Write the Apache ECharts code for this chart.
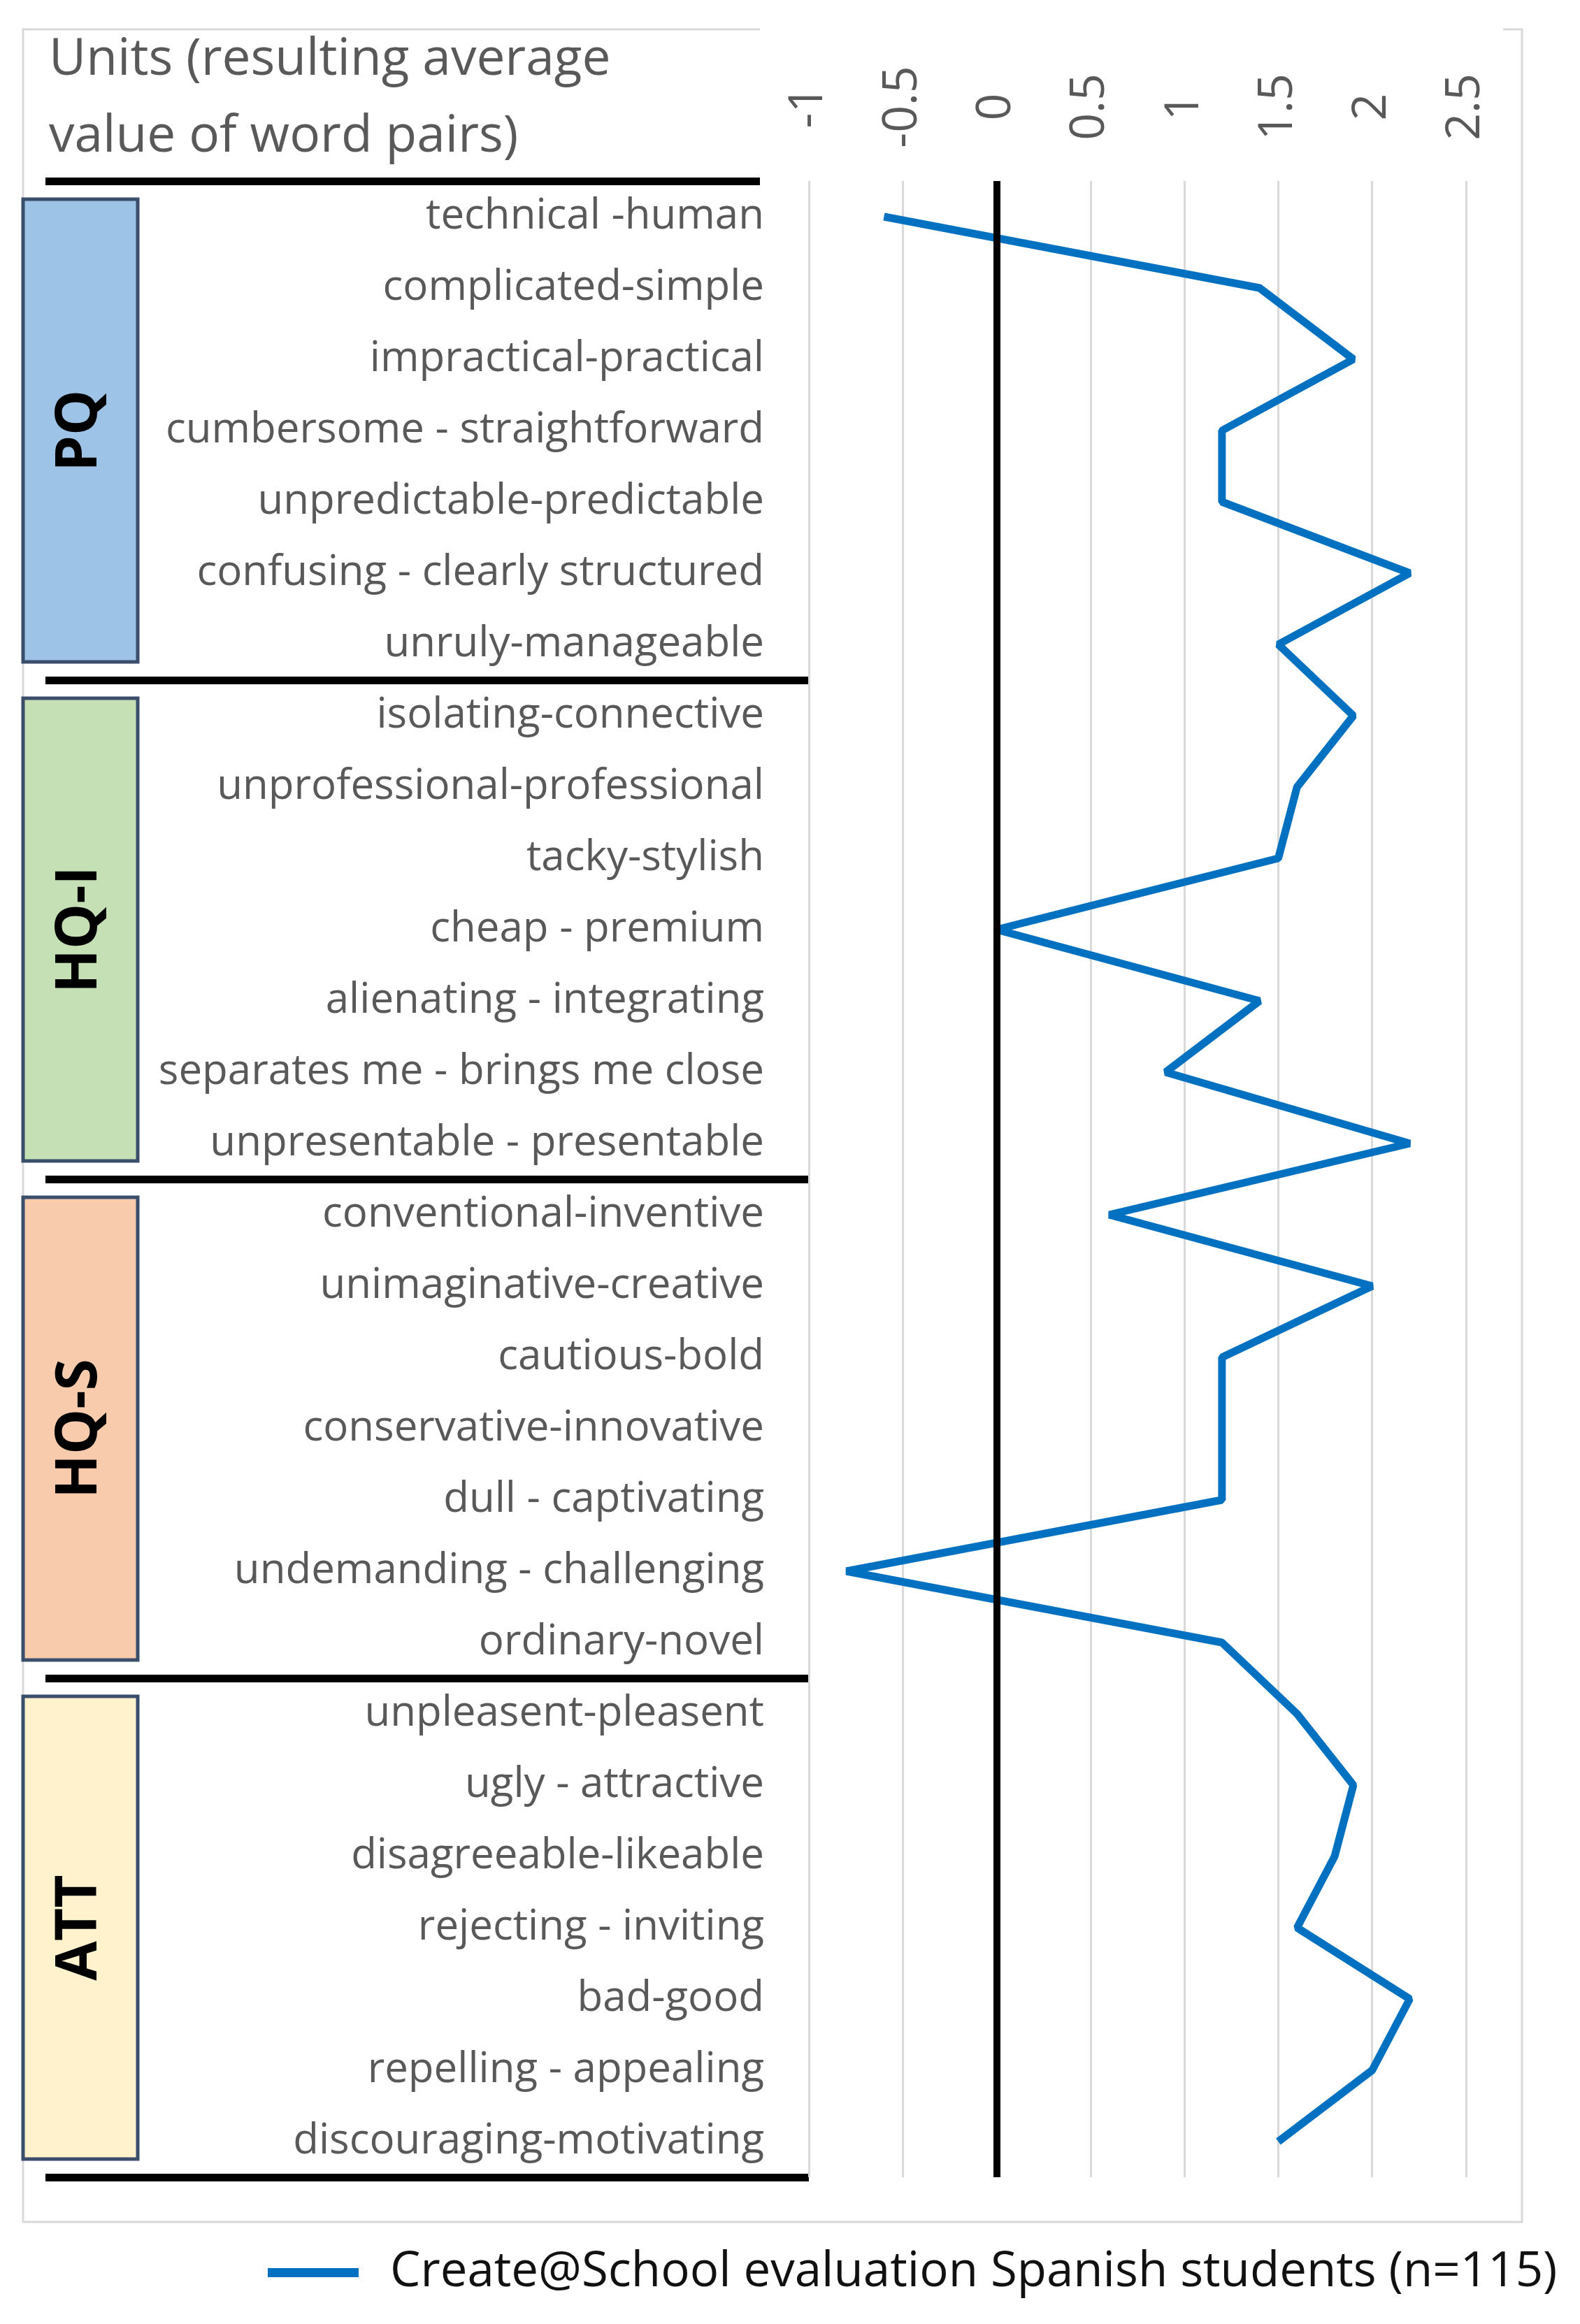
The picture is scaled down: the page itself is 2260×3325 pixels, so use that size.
<!DOCTYPE html>
<html>
<head>
<meta charset="utf-8">
<script src="https://cdn.jsdelivr.net/npm/echarts@6/dist/echarts.min.js"></script>
<style>
html,body{margin:0;padding:0;background:#fff;}
#chart{width:2260px;height:3325px;}
</style>
</head>
<body>
<div id="chart"></div>
<script>
// word pairs, top to bottom
const pairs=[
  'technical -human','complicated-simple','impractical-practical','cumbersome - straightforward',
  'unpredictable-predictable','confusing - clearly structured','unruly-manageable',
  'isolating-connective','unprofessional-professional','tacky-stylish','cheap - premium',
  'alienating - integrating','separates me - brings me close','unpresentable - presentable',
  'conventional-inventive','unimaginative-creative','cautious-bold','conservative-innovative',
  'dull - captivating','undemanding - challenging','ordinary-novel',
  'unpleasent-pleasent','ugly - attractive','disagreeable-likeable','rejecting - inviting',
  'bad-good','repelling - appealing','discouraging-motivating'
];
const values=[
  -0.6,1.4,1.9,1.2,1.2,2.2,1.5,
  1.9,1.6,1.5,0,1.4,0.9,2.2,
  0.6,2.0,1.2,1.2,1.2,-0.8,1.2,
  1.6,1.9,1.8,1.6,2.2,2.0,1.5
];
const groups=['PQ','HQ-I','HQ-S','ATT'];
const groupSize=[7,7,7,7];
const groupColors=['#9DC3E6','#C5E0B4','#F8CBAD','#FFF2CC'];
const xMin=-1, xMax=2.5, xStep=0.5;
const seriesName='Create@School evaluation Spanish students (n=115)';
const headerLines=['Units (resulting average','value of word pairs)'];

const W=2260, H=3325;
const gTop=259, gBottom=3115, gLeft=1157, gRight=2097;
const rowH=(gBottom-gTop)/pairs.length;

const chart=echarts.init(document.getElementById('chart'));

var graphics=[];
// outer frame (open at top right like the original)
graphics.push({type:'polyline',silent:true,shape:{points:[[1087,42],[33,42],[33,3179],[2177,3179],[2177,42],[2150,42]]},
  style:{stroke:'#D9D9D9',lineWidth:3,fill:null}});
// header text
headerLines.forEach(function(t,i){
  graphics.push({type:'text',x:70,y:86+i*110,style:{text:t,fill:'#595959',fontSize:73,fontFamily:'Open Sans',align:'left',verticalAlign:'middle'}});
});
// separators and group boxes
var start=0;
graphics.push({type:'rect',shape:{x:65,y:gTop-5,width:1087-65,height:11},style:{fill:'#000'}});
groups.forEach(function(g,i){
  var y0=gTop+start*rowH, y1=gTop+(start+groupSize[i])*rowH;
  graphics.push({type:'rect',shape:{x:65,y:y1-5,width:gLeft-65,height:11},style:{fill:'#000'}});
  graphics.push({type:'rect',shape:{x:33,y:y0+26,width:164,height:y1-y0-52},
    style:{fill:groupColors[i],stroke:'#3A4D6B',lineWidth:5}});
  graphics.push({type:'text',x:115,y:(y0+y1)/2,rotation:Math.PI/2,
    style:{text:g,fill:'#000',fontSize:82,fontWeight:'bold',fontFamily:'Open Sans',align:'center',verticalAlign:'middle'}});
  start+=groupSize[i];
});

chart.setOption({
  animation:false,
  backgroundColor:'#fff',
  textStyle:{fontFamily:'Open Sans'},
  grid:{left:gLeft,right:W-gRight,top:gTop,bottom:H-gBottom,containLabel:false},
  xAxis:{type:'value',position:'top',min:xMin,max:xMax,interval:xStep,
    axisLine:{show:false},axisTick:{show:false},
    axisLabel:{rotate:-90,align:'center',verticalAlign:'middle',margin:106,color:'#595959',fontSize:68,fontFamily:'Open Sans'},
    splitLine:{show:true,lineStyle:{color:'#D9D9D9',width:3}}},
  yAxis:{type:'category',inverse:true,data:pairs,
    axisLine:{show:false},axisTick:{show:false},splitLine:{show:false},
    axisLabel:{margin:64,color:'#595959',fontSize:60,fontFamily:'Open Sans',interval:0}},
  legend:{left:378,top:3212,itemWidth:130,itemHeight:40,itemGap:20,
    textStyle:{color:'#111',fontSize:69,fontFamily:'Open Sans',padding:[0,0,0,40]},
    data:[{name:seriesName,icon:'path://M0,0 L10,0 L10,1 L0,1 Z'}]},
  graphic:graphics,
  series:[{name:seriesName,type:'line',data:values,symbol:'none',
    lineStyle:{color:'#0070C0',width:11},itemStyle:{color:'#0070C0'},
    markLine:{silent:true,symbol:'none',label:{show:false},
      lineStyle:{color:'#000',width:10,type:'solid'},data:[{xAxis:0}]}}]
});
</script>
</body>
</html>
